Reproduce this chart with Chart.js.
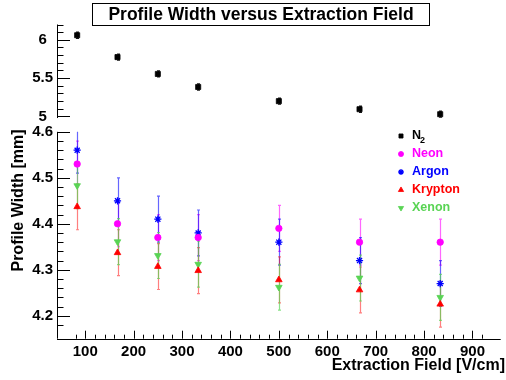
<!DOCTYPE html>
<html>
<head>
<meta charset="utf-8">
<script src="https://cdn.jsdelivr.net/npm/chart.js@4.4.1/dist/chart.umd.min.js"></script>
<style>
  html, body { margin: 0; padding: 0; background: #fff; }
  canvas { display: block; }
</style>
</head>
<body>
<canvas id="myChart" width="506" height="380"></canvas>
<script>
// data
const fieldVals = [83.33, 166.67, 250, 333.33, 500, 666.67, 833.33];

const n2Width = [6.06, 5.775, 5.555, 5.385, 5.20, 5.095, 5.03];
const n2Err = [0.04, 0.04, 0.04, 0.04, 0.04, 0.04, 0.04];

const neonWidth = [4.53, 4.40, 4.37, 4.37, 4.39, 4.36, 4.36];
const neonErr = [0.05, 0.05, 0.05, 0.05, 0.05, 0.05, 0.05];

const argonWidth = [4.56, 4.45, 4.41, 4.38, 4.36, 4.32, 4.27];
const argonErr = [0.05, 0.05, 0.05, 0.05, 0.05, 0.05, 0.05];

const kryptonWidth = [4.437, 4.337, 4.307, 4.298, 4.278, 4.256, 4.225];
const kryptonErr = [0.05, 0.05, 0.05, 0.05, 0.05, 0.05, 0.05];

const xenonWidth = [4.483, 4.361, 4.331, 4.312, 4.262, 4.282, 4.24];
const xenonErr = [0.05, 0.05, 0.05, 0.05, 0.05, 0.05, 0.05];

// tick labels
const xTickLabels = ['100', '200', '300', '400', '500', '600', '700', '800', '900'];
const yTopTickLabels = ['5', '5.5', '6'];
const yLowTickLabels = ['4.2', '4.3', '4.4', '4.5', '4.6'];

const FONT = "'Liberation Sans', Arial, Helvetica, sans-serif";
const upperAxisEnd = 4.98; // where the upper y axis line stops (axis break)

const pts = (ys) => fieldVals.map((x, i) => ({ x: x, y: ys[i] }));
const onGrid = (v, step) => Math.abs(v / step - Math.round(v / step)) < 1e-6;

function series(label, ys, errs, color, errColor, style, radius, rot, axis) {
  return {
    label: label,
    data: pts(ys),
    errors: errs,
    errColor: errColor,
    yAxisID: axis,
    showLine: false,
    pointStyle: style,
    pointRadius: radius,
    pointRotation: rot,
    pointBackgroundColor: color,
    pointBorderColor: color,
    pointBorderWidth: style === 'star' ? 1.3 : 0.8,
    color: color
  };
}

const datasets = [
  series('N2', n2Width, n2Err, '#000000', 'rgba(0,0,0,0.9)', 'rect', 3.6, 0, 'yTop'),
  series('Neon', neonWidth, neonErr, '#ff00ff', 'rgba(255,0,255,0.6)', 'circle', 3.2, 0, 'y'),
  series('Argon', argonWidth, argonErr, '#0000ff', 'rgba(0,0,255,0.6)', 'star', 3.6, 0, 'y'),
  series('Krypton', kryptonWidth, kryptonErr, '#ff0000', 'rgba(255,0,0,0.5)', 'triangle', 3.8, 0, 'y'),
  series('Xenon', xenonWidth, xenonErr, '#59d454', 'rgba(89,212,84,0.7)', 'triangle', 3.8, 180, 'y')
];

function tickAxis(ctx, scale, step, major, majorLen, minorLen, lo, hi) {
  const area = scale.chart.chartArea;
  scale.ticks.forEach(t => {
    const v = t.value;
    if (v < lo - 1e-9 || v > hi + 1e-9 || !onGrid(v, step)) return;
    const len = onGrid(v, major) ? majorLen : minorLen;
    const p = Math.round(scale.getPixelForValue(v)) + 0.5;
    if (scale.isHorizontal()) {
      ctx.moveTo(p, area.bottom); ctx.lineTo(p, area.bottom - len);
    } else {
      ctx.moveTo(area.left, p); ctx.lineTo(area.left + len, p);
    }
  });
}

const rootStyle = {
  id: 'rootStyle',
  beforeDatasetsDraw(chart) {
    // error bars
    const ctx = chart.ctx;
    const xs = chart.scales.x;
    chart.data.datasets.forEach(ds => {
      const ys = chart.scales[ds.yAxisID];
      ctx.save();
      ctx.strokeStyle = ds.errColor;
      ctx.lineWidth = 1.2;
      ctx.beginPath();
      ds.data.forEach((p, j) => {
        const e = ds.errors[j];
        const px = Math.round(xs.getPixelForValue(p.x)) + 0.5;
        const y1 = ys.getPixelForValue(Math.max(p.y - e, ys.min));
        const y2 = ys.getPixelForValue(Math.min(p.y + e, ys.max));
        ctx.moveTo(px, y1); ctx.lineTo(px, y2);
        if (p.y - e >= ys.min) { ctx.moveTo(px - 1.5, y1); ctx.lineTo(px + 1.5, y1); }
        if (p.y + e <= ys.max) { ctx.moveTo(px - 1.5, y2); ctx.lineTo(px + 1.5, y2); }
      });
      ctx.stroke();
      ctx.restore();
    });
  },
  afterDraw(chart) {
    const ctx = chart.ctx;
    const area = chart.chartArea;
    const xs = chart.scales.x, yTop = chart.scales.yTop, yLow = chart.scales.y;
    ctx.save();
    ctx.strokeStyle = '#000';
    ctx.lineWidth = 1;
    ctx.beginPath();
    // axis lines
    const ax = Math.round(area.left) + 0.5;
    ctx.moveTo(ax, yTop.top); ctx.lineTo(ax, yTop.getPixelForValue(upperAxisEnd));
    ctx.moveTo(ax, yLow.top); ctx.lineTo(ax, yLow.bottom);
    const by = Math.round(area.bottom) + 0.5;
    ctx.moveTo(area.left, by); ctx.lineTo(area.right, by);
    // ticks inside the frame
    tickAxis(ctx, xs, 20, 100, 8, 4, xs.min, xs.max);
    tickAxis(ctx, yTop, 0.1, 0.5, 13, 6.5, upperAxisEnd, yTop.max);
    tickAxis(ctx, yLow, 0.02, 0.1, 13, 6.5, yLow.min, yLow.max);
    ctx.stroke();

    // title box
    ctx.fillStyle = '#fff';
    ctx.fillRect(92.5, 3.5, 337, 22);
    ctx.strokeRect(92.5, 3.5, 337, 22);
    ctx.fillStyle = '#000';
    ctx.font = 'bold 17.5px ' + FONT;
    ctx.textAlign = 'center';
    ctx.textBaseline = 'middle';
    ctx.fillText('Profile Width versus Extraction Field', 261, 15.5);

    // axis titles
    ctx.font = 'bold 16px ' + FONT;
    ctx.textAlign = 'right';
    ctx.fillText('Extraction Field [V/cm]', 505, 366);
    ctx.save();
    ctx.translate(18.5, 200.5);
    ctx.rotate(-Math.PI / 2);
    ctx.textAlign = 'center';
    ctx.fillText('Profile Width [mm]', 0, 0);
    ctx.restore();

    // legend
    const lx = 401, tx = 412, ly0 = 136, step = 18;
    chart.data.datasets.forEach((ds, i) => {
      const y = ly0 + i * step;
      ctx.fillStyle = ds.pointBackgroundColor;
      ctx.strokeStyle = ds.pointBorderColor;
      ctx.lineWidth = ds.pointBorderWidth;
      Chart.helpers.drawPoint(ctx, {
        pointStyle: ds.pointStyle, radius: ds.pointRadius * 0.8,
        rotation: ds.pointRotation, borderWidth: ds.pointBorderWidth
      }, lx, y);
      ctx.fillStyle = ds.color;
      ctx.textAlign = 'left';
      ctx.textBaseline = 'middle';
      ctx.font = 'bold 12.5px ' + FONT;
      if (ds.label === 'N2') {
        ctx.fillText('N', tx, y);
        const w = ctx.measureText('N').width;
        ctx.font = 'bold 9px ' + FONT;
        ctx.fillText('2', tx + w - 1, y + 5);
      } else {
        ctx.fillText(ds.label, tx, y);
      }
    });
    ctx.restore();
  }
};

const tickFont = { family: FONT, size: 15, weight: 'bold' };

new Chart(document.getElementById('myChart'), {
  type: 'scatter',
  data: { datasets: datasets },
  options: {
    responsive: false,
    animation: false,
    devicePixelRatio: 1,
    layout: { padding: { top: 24.5, left: 0, right: 0, bottom: 0 } },
    plugins: { legend: { display: false }, title: { display: false }, tooltip: { enabled: false } },
    scales: {
      x: {
        type: 'linear', min: 41.67, max: 958.33,
        grid: { display: false, drawTicks: false }, border: { display: false },
        ticks: {
          stepSize: 20, autoSkip: false, maxRotation: 0, padding: 4,
          color: '#000', font: tickFont,
          callback: v => xTickLabels.includes(String(Math.round(v))) && onGrid(v, 100) ? String(Math.round(v)) : ''
        },
        afterFit: s => { s.height = 41.3; }
      },
      y: {
        type: 'linear', position: 'left', stack: 'w', stackWeight: 207,
        min: 4.15, max: 4.6,
        grid: { display: false, drawTicks: false }, border: { display: false },
        ticks: {
          stepSize: 0.02, autoSkip: false, padding: 4, crossAlign: 'center',
          color: '#000', font: tickFont,
          callback: v => { const s = v.toFixed(1); return onGrid(v, 0.1) && yLowTickLabels.includes(s) ? s : ''; }
        },
        afterFit: s => { s.width = 57; }
      },
      yTop: {
        type: 'linear', position: 'left', stack: 'w', stackWeight: 107.4,
        min: 4.8, max: 6.2,
        grid: { display: false, drawTicks: false }, border: { display: false },
        ticks: {
          stepSize: 0.1, autoSkip: false, padding: 4, crossAlign: 'center',
          color: '#000', font: tickFont,
          callback: v => { const s = String(+v.toFixed(1)); return onGrid(v, 0.5) && yTopTickLabels.includes(s) ? s : ''; }
        },
        afterFit: s => { s.width = 57; }
      }
    }
  },
  plugins: [rootStyle]
});
</script>
</body>
</html>
